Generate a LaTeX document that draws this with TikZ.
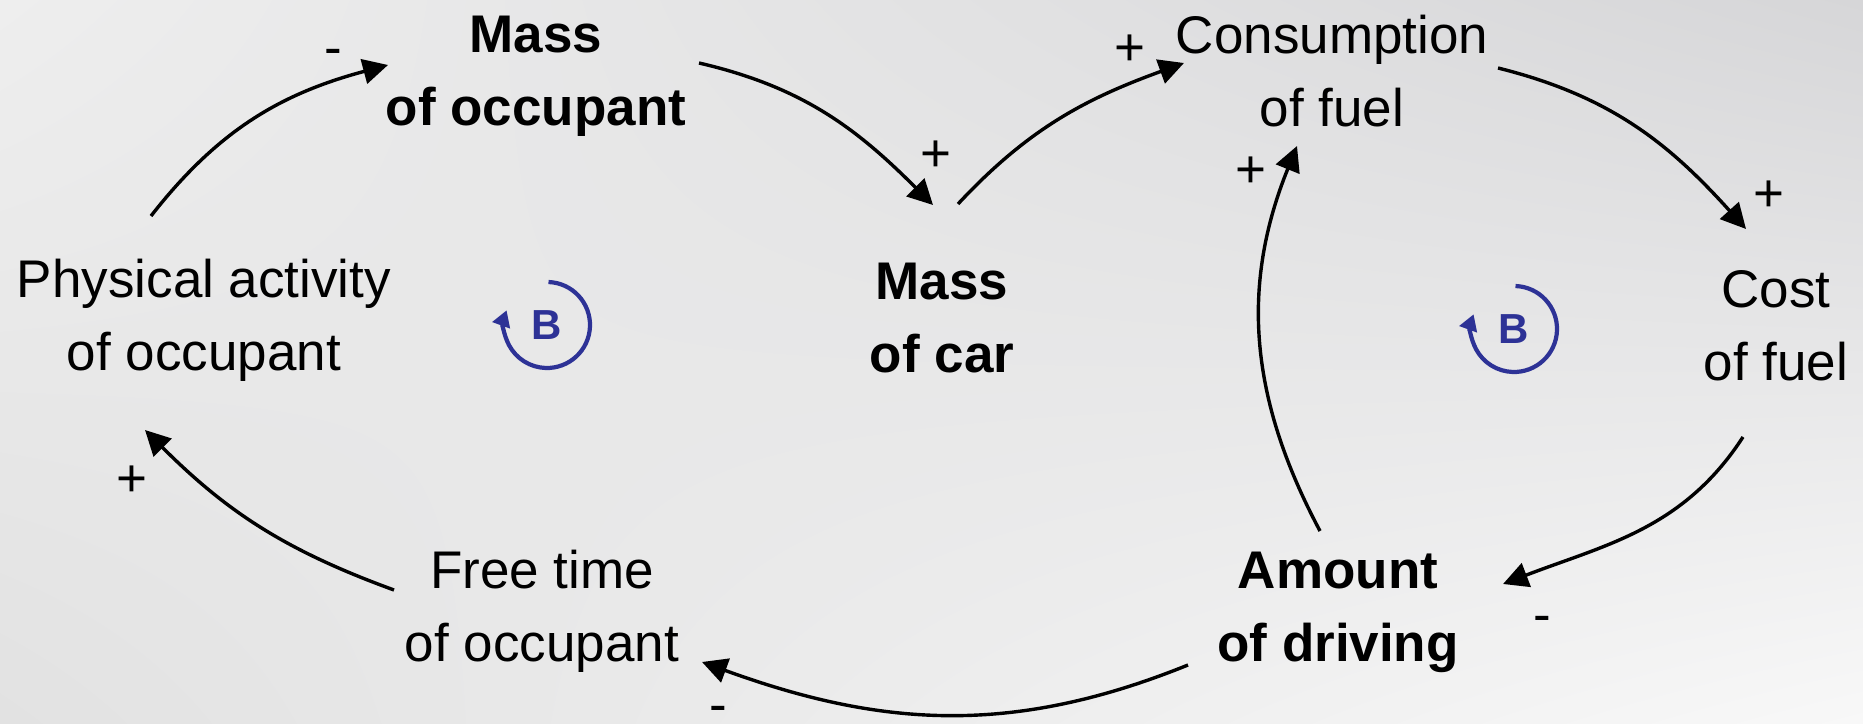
\documentclass[tikz,border=0pt]{standalone}
\usepackage{fontspec}
\setmainfont{Liberation Sans}
\usepackage{tikz}
\usetikzlibrary{arrows.meta,calc,shadings}

\definecolor{loopblue}{RGB}{45,50,150}
\definecolor{bgUL}{RGB}{238,238,238}
\definecolor{bgUR}{RGB}{214,214,216}
\definecolor{bgLL}{RGB}{226,226,226}
\definecolor{bgLR}{RGB}{248,248,248}

\begin{document}
\begin{tikzpicture}[
  x=0.5pt, y=0.5pt,
  every node/.style={font=\fontsize{26.5}{36.5}\selectfont},
  var/.style={align=center, inner sep=0pt},
  key/.style={var, font=\fontsize{26.5}{36.5}\selectfont\bfseries},
  sign/.style={inner sep=0pt},
  link/.style={-{Triangle[length=12.5pt, width=12.5pt]}, line width=1.7pt},
  loopsym/.style={-{Triangle[length=8pt, width=9pt]}, line width=2.1pt, draw=loopblue},
  looplabel/.style={text=loopblue, inner sep=0pt, font=\fontsize{21}{25}\selectfont\bfseries}
]
% background
\shade[upper left=bgUL, upper right=bgUR, lower left=bgLL, lower right=bgLR]
  (0,0) rectangle (1863,723);
\useasboundingbox (0,0) rectangle (1863,723);

% variables
\node[key] (mocc) at (536,647) {Mass\\of occupant};
\node[var] (phys) at (204,403) {Physical activity\\of occupant};
\node[key] (mcar) at (942,405) {Mass\\of car};
\node[var] (cons) at (1332,652) {Consumption\\of fuel};
\node[var] (cost) at (1776,397) {Cost\\of fuel};
\node[key] (amnt) at (1338,111) {Amount\\of driving};
\node[var] (free) at (542,112) {Free time\\of occupant};

% causal links
\draw[link] ($(phys)+(-53,104)$) to[out=52, in=195] ($(mocc)+(-148,11)$);
\draw[link] ($(mocc)+(163,13)$) to[out=-13, in=135] ($(mcar)+(-9,113)$);
\draw[link] ($(mcar)+(16,114)$) to[out=47, in=200] ($(cons)+(-148,8)$);
\draw[link] ($(cons)+(166,3)$) to[out=-14, in=132] ($(cost)+(-30,97)$);
\draw[link] ($(cost)+(-33,-111)$) to[out=-123, in=21] ($(amnt)+(165,28)$);
\draw[link] ($(amnt)+(-18,81)$) to[out=118, in=-112] ($(cons)+(-35,-75)$);
\draw[link] ($(amnt)+(-150,-53)$) to[out=-158, in=-20] ($(free)+(160,-51)$);
\draw[link] ($(free)+(-148,21)$) to[out=160, in=-45] ($(phys)+(-59,-110)$);

% polarities
\node[sign] (s1) at (333,666) {-};
\node[sign] (s2) at (936,567) {+};
\node[sign] (s3) at (1130,673) {+};
\node[sign] (s4) at (1769,527) {+};
\node[sign] (s5) at (1542,99) {-};
\node[sign] (s6) at (1251,551) {+};
\node[sign, anchor=south] (s7) at (718,0) {-};
\node[sign] (s8) at (132,242) {+};

% loop markers
\node[looplabel] (loopL) at (547,398) {B};
\draw[loopsym] ($(loopL)+(88:43)$) arc[start angle=88, end angle=-200, radius=43];
\node[looplabel] (loopR) at (1514,394) {B};
\draw[loopsym] ($(loopR)+(88:43)$) arc[start angle=88, end angle=-200, radius=43];
\end{tikzpicture}
\end{document}
